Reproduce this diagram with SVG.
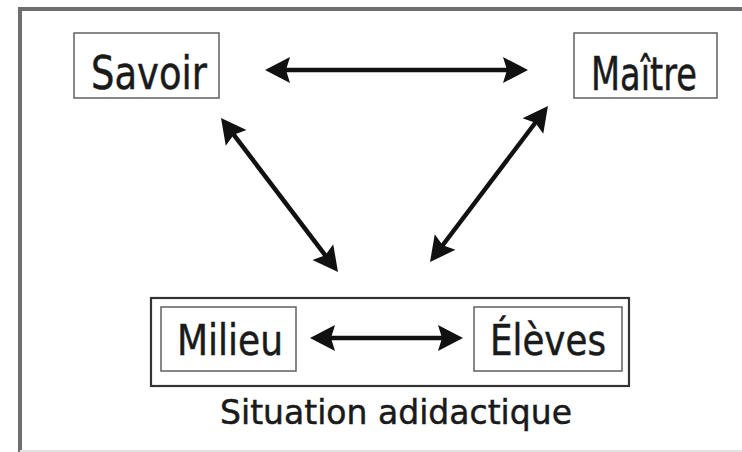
<svg xmlns="http://www.w3.org/2000/svg" width="742" height="452" viewBox="0 0 742 452">
  <style>
    .frame { fill: none; stroke: #6e6e6e; stroke-width: 4; }
    .box { fill: #fff; stroke: #6a6a6a; stroke-width: 1.6; }
    .outer { fill: #fff; stroke: #333; stroke-width: 2.2; }
    .lbl { font-family: "DejaVu Sans", "Liberation Sans", sans-serif; fill: #1a1a1a; stroke: #1a1a1a; stroke-width: 0.5; }
    .conn { stroke: #111; stroke-width: 4.5; fill: none; marker-start: url(#ah); marker-end: url(#ah); }
  </style>
  <defs>
    <marker id="ah" markerUnits="userSpaceOnUse" viewBox="0 0 26 28" markerWidth="26" markerHeight="28" refX="5" refY="14" orient="auto-start-reverse">
      <path d="M0,1 L25,14 L0,27 L4,14 z" fill="#111"/>
    </marker>
  </defs>
  <rect width="742" height="452" fill="#fff"/>
  <rect class="frame" x="20" y="9" width="740" height="460"/>
  <line x1="20" y1="451" x2="742" y2="451" stroke="#e2e2e2" stroke-width="2"/>

  <g id="savoir">
    <rect class="box" x="74" y="33" width="145" height="65"/>
    <text class="lbl" x="91" y="89" font-size="46" textLength="116" lengthAdjust="spacingAndGlyphs">Savoir</text>
  </g>
  <g id="maitre">
    <rect class="box" x="574" y="33" width="143" height="65"/>
    <text class="lbl" x="591" y="90" font-size="46" textLength="106" lengthAdjust="spacingAndGlyphs">Maître</text>
  </g>
  <g id="situation">
    <rect class="outer" x="151" y="298" width="478" height="88"/>
    <text class="lbl" x="220" y="424" font-size="34" textLength="352" lengthAdjust="spacingAndGlyphs">Situation adidactique</text>
  </g>
  <g id="milieu">
    <rect class="box" x="161" y="307" width="135" height="64"/>
    <text class="lbl" x="177" y="355" font-size="43" textLength="106" lengthAdjust="spacingAndGlyphs">Milieu</text>
  </g>
  <g id="eleves">
    <rect class="box" x="474" y="307" width="148" height="64"/>
    <text class="lbl" x="490" y="355" font-size="43" textLength="116" lengthAdjust="spacingAndGlyphs">Élèves</text>
  </g>

  <g id="connectors">
    <line class="conn" x1="285" y1="70" x2="508" y2="70"/>
    <line class="conn" x1="233.1" y1="133.9" x2="325.9" y2="256.1"/>
    <line class="conn" x1="535.9" y1="122" x2="442.1" y2="246"/>
    <line class="conn" x1="330" y1="338" x2="443" y2="338"/>
  </g>
</svg>
